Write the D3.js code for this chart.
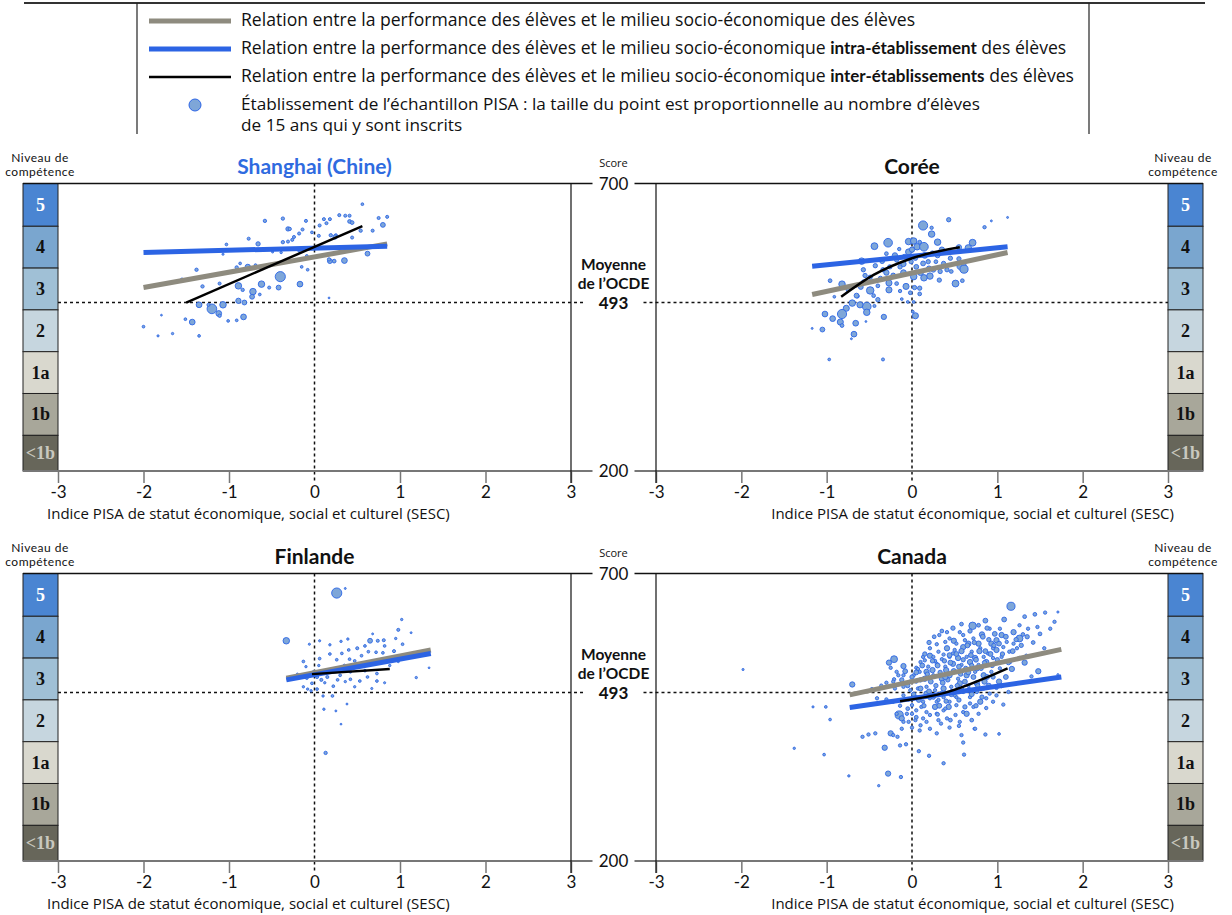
<!DOCTYPE html>
<html>
<head>
<meta charset="utf-8">
<script src="https://cdn.jsdelivr.net/npm/d3@7"></script>
<style>
  body { margin: 0; background: #fff; }
  svg { display: block; }
  text { font-family: Lato, "Open Sans", sans-serif; fill: #111; }
  .wide { font-family: "Open Sans", Lato, sans-serif; }
</style>
</head>
<body>
<svg id="chart" width="1232" height="915"></svg>
<script>
// ---- Data -------------------------------------------------------------
const countries = ["Shanghai (Chine)", "Corée", "Finlande", "Canada"];
const levelLabels = ["5", "4", "3", "2", "1a", "1b", "<1b"];
const levelCuts = [700, 625.6, 552.9, 480.2, 407.5, 334.8, 262.0, 200];
const xTicks = [-3, -2, -1, 0, 1, 2, 3];
const scoreTicks = [700, 200];
const oecdMean = 493;

// Schools: [ESCS index, mean score, 15-year-old students enrolled]
const shanghaiSchools = [
  [0.56,664,8],[0.29,645,10],[0.36,644,10],[0.41,644,10],[0.85,642,10],[0.75,640,10],[0.11,638,10],[0.18,638,10],
  [0.41,634,15],[0.44,632,15],[0.80,628,25],[-0.58,635,12],[-0.37,639,12],[-0.10,635,10],[0.14,631,10],[0.06,627,10],
  [-0.31,621,20],[-0.29,621,12],[-0.14,620,10],[-0.18,613,10],[-0.24,607,10],[-0.26,602,10],[-0.31,599,10],[-0.37,598,12],
  [-0.03,615,8],[0.05,609,10],[0.19,610,12],[0.25,610,10],[0.44,606,10],[0.54,618,12],[0.68,618,10],[-0.77,604,10],
  [-0.66,595,20],[-1.03,594,8],[-0.49,581,5],[-0.39,580,6],[-0.09,574,8],[-0.18,583,8],[0.18,565,25],[0.23,565,15],
  [0.35,566,35],[0.62,578,25],[-0.08,550,8],[-0.15,555,8],[-1.07,577,5],[-1.38,550,12],[-1.55,533,10],[-1.31,521,12],
  [-1.11,526,10],[-0.87,561,8],[-0.91,554,12],[-0.78,555,30],[-0.69,558,8],[-0.40,538,110],[-0.42,519,25],[-0.62,525,45],
  [-0.72,512,45],[-0.73,503,25],[-0.89,522,45],[-0.84,515,12],[-0.64,507,8],[-0.53,519,10],[-0.17,525,35],[-0.89,496,30],
  [-0.82,493,25],[-1.07,489,45],[-1.20,482,100],[-1.12,474,35],[-1.35,489,35],[-1.24,489,10],[-1.11,470,12],[-0.83,468,35],
  [-1.43,459,35],[-1.51,464,8],[-1.01,461,8],[-0.91,462,8],[-2.0,451,8],[-1.79,471,3],[-1.83,435,5],[-1.66,439,6],
  [-1.35,435,8],[0.17,501,3],[0.24,607,20],[0.17,568,12]
];
const koreaSchools = [
  [1.12,641,4],[0.93,635,4],[0.85,624,12],[0.43,637,20],[0.13,627,90],[0.23,623,12],[0.23,612,45],[0.30,598,45],
  [0.71,597,50],[0.66,588,45],[0.55,589,30],[-0.44,591,50],[-0.28,597,80],[-0.30,578,15],[-0.15,586,12],[-0.04,599,45],
  [0.02,600,45],[0.06,590,45],[0.09,598,15],[0.14,590,80],[-0.04,581,40],[-0.09,573,20],[-0.01,564,20],[0.04,570,20],
  [0.13,561,25],[0.19,564,20],[0.28,564,15],[0.37,561,20],[0.55,569,20],[0.58,557,90],[0.61,551,70],[0.51,526,50],
  [0.59,531,15],[0.41,550,20],[0.32,532,20],[0.21,539,45],[0.14,536,45],[0.02,538,45],[0.03,519,20],[0.09,518,20],
  [0.09,508,15],[-0.02,510,15],[-0.05,494,8],[0.01,477,8],[0.04,470,40],[-0.12,499,8],[-0.14,513,12],[-0.07,521,40],
  [-0.18,526,15],[-0.27,515,40],[-0.27,527,40],[-0.40,522,15],[-0.49,514,60],[-0.37,535,20],[-0.49,537,20],[-0.34,550,20],
  [-0.26,555,20],[-0.18,567,20],[-0.43,557,20],[-0.57,550,20],[-0.59,565,45],[-0.57,529,15],[-0.82,525,45],[-0.96,531,15],
  [-0.91,503,8],[-0.53,486,80],[-0.61,489,40],[-0.70,492,45],[-0.77,483,40],[-0.82,473,90],[-0.53,476,45],[-0.44,487,10],
  [-1.02,473,35],[-0.93,465,35],[-0.84,459,40],[-0.82,453,15],[-0.66,457,35],[-0.68,438,35],[-0.33,468,30],[-0.54,460,3],
  [-1.05,446,25],[-1.17,448,4],[-0.97,394,8],[-0.34,394,10],[-0.71,430,4],[-0.64,504,15],[-0.75,515,15],[0.02,494,8],
  [0.33,547,20],[0.46,547,15],[0.24,579,20],[-0.14,555,20],[-0.10,560,30],[0.05,555,25],[0.20,552,30],[-0.22,540,25],
  [0.10,545,35],[-0.30,545,30],[0.30,575,25],[0.45,570,20],[-0.60,520,25],[-0.45,505,15],[0.00,585,30],[-0.20,575,30],
  [0.15,575,35],[0.35,585,30],[-0.35,565,25],[-0.10,545,35],[0.25,550,25],[-0.55,540,20],[-0.65,505,25],[-0.40,498,20]
];
const finlandSchools = [
  [0.26,666,110],[0.36,674,4],[-0.33,583,45],[1.02,620,6],[0.98,602,10],[1.13,597,4],[0.65,583,25],[0.74,583,10],
  [0.81,584,10],[1.03,577,8],[0.93,565,10],[1.16,562,8],[1.34,536,3],[1.19,519,6],[0.82,510,5],[0.73,513,8],
  [0.67,500,5],[0.62,520,8],[0.53,513,8],[0.47,503,6],[0.42,516,8],[0.36,512,6],[0.27,515,8],[0.22,504,8],
  [0.15,520,10],[0.08,515,10],[0.03,520,10],[-0.03,509,8],[-0.09,518,8],[-0.10,538,6],[0.06,552,8],[0.18,560,8],
  [0.26,550,8],[0.32,561,8],[0.40,567,8],[0.41,551,8],[0.50,570,10],[0.55,557,8],[0.59,574,8],[0.63,564,8],
  [0.47,548,8],[0.31,582,6],[0.39,586,6],[0.18,576,6],[0.06,583,5],[-0.06,577,5],[0.68,595,4],[0.21,487,8],
  [0.11,464,6],[0.38,473,4],[0.25,461,4],[0.13,388,12],[-0.08,499,6],[-0.04,496,6],[0.03,499,8],[0.10,487,6],
  [0.31,438,3],[-0.13,503,6],[-0.13,547,8],[0.72,563,8],[0.82,574,8],[0.80,562,8],[0.98,547,6],[1.10,554,6],
  [0.73,526,8],[0.59,531,8],[0.42,529,8],[0.30,523,8],[0.51,543,8],[-0.01,529,8],[0.95,587,6],[0.20,530,8],
  [0.35,540,8],[0.12,510,6],[0.60,545,6],[0.88,540,6],[-0.20,525,5],[0.05,540,6],[0.45,535,6]
];
const canadaSchools = [
  [1.16,643,70],[0.71,609,60],[0.86,618,25],[1.08,620,25],[1.32,625,15],[1.44,629,15],[1.56,632,12],[1.71,633,5],
  [1.67,616,12],[1.62,604,12],[1.47,607,12],[1.26,587,50],[1.30,594,15],[1.19,598,30],[1.19,578,12],[1.14,564,12],
  [1.05,593,30],[0.93,578,30],[0.82,594,30],[0.78,578,30],[0.66,578,30],[0.60,593,12],[0.49,583,30],[0.48,561,12],
  [0.37,559,12],[0.21,557,30],[0.27,548,12],[0.13,555,12],[0.10,546,12],[0.05,536,12],[-0.10,539,30],[-0.21,551,50],
  [-0.27,545,30],[-0.25,536,12],[-0.21,516,12],[-0.30,510,12],[-0.36,505,12],[-0.47,499,12],[-0.70,507,30],[-1.98,533,5],
  [-1.16,468,5],[-1.01,468,8],[-0.96,446,8],[-1.38,396,6],[-1.03,385,8],[-0.74,348,6],[-0.39,331,6],[-0.28,352,30],
  [-0.13,346,12],[-0.32,397,30],[-0.14,401,12],[-0.07,403,12],[0.08,391,12],[0.20,383,12],[0.37,370,12],[0.61,385,12],
  [0.60,406,12],[0.86,420,12],[1.02,421,8],[0.73,430,8],[-0.58,416,12],[-0.51,420,12],[-0.43,422,12],[-0.25,422,30],
  [-0.22,419,12],[-0.17,416,12],[0.00,432,12],[0.09,427,12],[0.10,436,12],[0.21,430,12],[0.34,439,12],[0.44,432,12],
  [0.56,442,12],[0.74,430,12],[-0.15,454,70],[-0.12,448,30],[-0.06,456,12],[0.00,456,12],[0.13,448,12],[0.21,454,12],
  [0.37,462,12],[0.43,468,30],[0.52,471,12],[0.60,459,12],[0.72,468,12],[0.87,483,12],[0.99,488,12],[1.07,472,12],
  [1.13,494,12],[1.02,512,30],[1.17,534,30],[1.48,530,30],[1.40,521,12],[1.71,524,5],[1.32,545,30],[-0.41,483,12],
  [-0.30,481,12],[-0.22,477,12],[-0.14,470,12],[-0.04,481,12],[0.05,485,12],[0.13,477,12],[0.21,483,12],[0.29,477,12],
  [0.37,485,12],[0.44,477,12],[0.52,485,12],[0.60,494,12],[0.68,485,12],[0.76,494,12],[0.84,500,12],[0.91,491,12],
  [0.99,501,12],[0.85,512,30],[0.76,509,30],[0.66,505,12],[0.56,509,30],[0.46,503,12],[0.37,500,30],[0.27,497,12],
  [0.17,503,12],[0.07,500,12],[-0.02,497,12],[-0.10,503,12],[-0.20,500,12],[0.05,512,12],[0.15,517,30],[0.25,523,12],
  [0.35,517,30],[0.44,523,30],[0.54,517,12],[0.64,523,30],[0.74,529,12],[0.84,523,30],[0.93,529,12],[1.03,535,12],
  [0.87,546,30],[0.78,541,12],[0.68,546,30],[0.58,541,12],[0.48,543,30],[0.39,538,12],[0.29,543,12],[0.19,538,12],
  [0.09,529,12],[0.17,529,30],[0.02,523,12],[-0.10,523,12],[-0.18,529,12],[0.21,570,12],[0.31,564,12],[0.41,570,30],
  [0.50,567,12],[0.60,572,30],[0.70,564,12],[0.80,570,12],[0.89,561,12],[0.99,567,30],[1.07,572,12],[1.05,555,12],
  [0.95,553,12],[0.84,555,12],[0.74,553,30],[0.64,555,12],[0.54,553,30],[0.44,555,12],[0.35,551,12],[0.25,555,12],
  [0.29,577,12],[0.39,581,12],[0.52,578,12],[0.62,584,12],[0.72,587,12],[0.95,570,12],[0.99,584,30],[1.11,581,12],
  [1.23,570,12],[1.15,546,12],[1.26,553,12],[1.34,557,12],[1.26,610,12],[1.36,604,12],[1.03,604,12],[0.91,604,12],
  [0.56,598,12],[0.44,587,12],[0.32,593,12],[0.41,598,12],[0.07,534,12],[0.15,549,12],[-0.22,512,12],[-0.16,523,12],
  [-0.02,512,12],[-0.10,488,12],[0.00,471,12],[0.05,462,12],[0.11,468,12],[0.17,459,12],[0.29,456,12],[0.41,448,12],
  [0.51,454,12],[0.64,456,30],[0.78,456,12],[0.87,466,12],[0.95,477,12],[0.27,468,30],[0.31,480,12],[0.68,474,12],
  [0.80,477,30],[0.50,488,12],[0.27,488,12],[0.17,491,30],[-0.18,456,12],[-0.10,442,12],[-0.04,442,12],[0.04,445,12],
  [0.17,442,12],[0.31,445,12],[-0.12,430,12],[0.29,422,12],[0.58,419,12],[0.39,465,12],
  [0.00,520,20],[0.05,528,25],[0.10,515,20],[0.12,540,25],[0.18,525,20],[0.22,512,25],[0.24,532,30],[0.28,505,20],
  [0.30,540,25],[0.33,528,20],[0.36,510,25],[0.38,548,20],[0.40,532,30],[0.42,515,20],[0.45,545,25],[0.47,495,20],
  [0.49,530,30],[0.52,560,25],[0.53,505,20],[0.55,538,25],[0.57,525,20],[0.58,565,30],[0.60,550,20],[0.62,512,25],
  [0.63,535,20],[0.65,575,25],[0.67,498,20],[0.69,558,25],[0.70,540,20],[0.72,520,25],[0.73,580,20],[0.75,550,25],
  [0.77,505,20],[0.79,565,30],[0.81,535,20],[0.83,590,25],[0.85,545,20],[0.88,520,25],[0.90,585,20],[0.92,560,25],
  [0.94,540,20],[0.97,595,25],[1.00,550,20],[1.02,578,25],[1.06,560,20],[1.10,590,25],[1.13,545,20],[1.18,565,25],
  [1.22,585,20],[1.28,575,20],[1.35,590,20],[1.42,580,15],[1.50,595,15],[1.55,570,12],[-0.05,505,20],[-0.08,530,25],
  [-0.12,515,20],[0.02,490,20],[0.08,480,25],[0.14,470,20],[0.20,495,25],[0.25,485,20],[0.32,470,25],[0.35,492,20],
  [0.40,478,20],[0.46,490,25],[0.55,480,20],[0.62,468,20],[0.70,490,25],[0.75,470,20],[0.82,485,20],[0.90,505,25],
  [0.95,520,20],[1.05,505,20],[1.10,520,25],[0.15,560,20],[0.20,580,20],[0.26,590,15],[0.35,600,15],[0.48,605,20],
  [0.58,612,15],[0.68,600,20],[0.78,610,15],[0.88,605,20],[0.30,455,15],[0.45,445,15],[0.05,450,15],[-0.05,465,15],
  [0.55,435,12],[0.70,445,15],[0.10,500,25],[0.44,558,25],[0.66,528,25],[0.86,565,25],[0.39,520,30],[0.58,498,25],
  [0.76,535,30],[0.96,575,20],[0.24,548,20]
];

// Regression lines: [ESCS index, score]
const shanghaiTotal   = [[-2.0, 519], [0.85, 595]];
const shanghaiWithin  = [[-2.0, 580], [0.85, 591]];
const shanghaiBetween = [[-1.5, 493], [0.56, 626]];
const koreaTotal      = [[-1.17, 507], [1.12, 580]];
const koreaWithin     = [[-1.17, 556], [1.12, 590]];
const koreaBetween    = [[-0.83, 503], [-0.45, 541], [0, 570], [0.56, 589]];
const finlandTotal    = [[-0.33, 518], [1.36, 567]];
const finlandWithin   = [[-0.33, 515], [1.36, 561]];
const finlandBetween  = [[-0.03, 525], [0.88, 534]];
const canadaTotal     = [[-0.73, 489], [1.75, 568]];
const canadaWithin    = [[-0.73, 467], [1.75, 520]];
const canadaBetween   = [[-0.14, 478], [0.37, 492], [1.12, 535]];

const legendItems = [
  ["Relation entre la performance des élèves et le milieu socio-économique des élèves", "", ""],
  ["Relation entre la performance des élèves et le milieu socio-économique ", "intra-établissement", " des élèves"],
  ["Relation entre la performance des élèves et le milieu socio-économique ", "inter-établissements", " des élèves"]
];

// ---- Styles -----------------------------------------------------------
const levelColors = ["#4a85d2", "#7aa6cf", "#a0c0d6", "#c6d6df", "#d9d8ce", "#a8a79a", "#67665a"];
const levelTextColors = ["#ffffff", "#111", "#111", "#111", "#111", "#111", "#c9c8bf"];
const greyLine = "#8e8b7f", blueLine = "#2c64e4", pointFill = "#7ea6d8", pointStroke = "#2d66e6";

const svg = d3.select("#chart");
const r = d3.scaleSqrt().domain([0, 180]).range([0, 6.5]);

const panels = [
  { title: countries[0], schools: shanghaiSchools, lines: [shanghaiTotal, shanghaiWithin, shanghaiBetween],
    x0: 58, x1: 571, y0: 183.5, y1: 471, side: "left", titleColor: "#2f6be0" },
  { title: countries[1], schools: koreaSchools, lines: [koreaTotal, koreaWithin, koreaBetween],
    x0: 656, x1: 1168, y0: 183.5, y1: 471, side: "right", titleColor: "#111" },
  { title: countries[2], schools: finlandSchools, lines: [finlandTotal, finlandWithin, finlandBetween],
    x0: 58, x1: 571, y0: 573.5, y1: 861, side: "left", titleColor: "#111" },
  { title: countries[3], schools: canadaSchools, lines: [canadaTotal, canadaWithin, canadaBetween],
    x0: 656, x1: 1168, y0: 573.5, y1: 861, side: "right", titleColor: "#111" }
];

const midX = 613.5;
const boxW = 35;

panels.forEach(p => {
  const x = d3.scaleLinear().domain([-3, 3]).range([p.x0, p.x1]);
  const y = d3.scaleLinear().domain([200, 700]).range([p.y1, p.y0]);
  const g = svg.append("g");
  const left = p.side === "left";
  const boxX = left ? p.x0 - boxW : p.x1;
  const outerL = left ? boxX : midX + 21;
  const outerR = left ? midX - 21 : boxX + boxW;

  // proficiency level strip
  const lv = g.append("g");
  levelLabels.forEach((lab, i) => {
    const top = y(levelCuts[i]), bot = y(levelCuts[i + 1]);
    lv.append("rect").attr("x", boxX).attr("y", top).attr("width", boxW).attr("height", bot - top)
      .attr("fill", levelColors[i]).attr("stroke", "#222").attr("stroke-width", 1);
    lv.append("text").attr("x", boxX + boxW / 2).attr("y", (top + bot) / 2 + 6)
      .attr("text-anchor", "middle").style("font-family", "'Liberation Serif', serif")
      .style("font-size", "18px").style("font-weight", "bold")
      .style("fill", levelTextColors[i]).text(lab);
  });
  const nx = left ? 40 : 1183;
  g.append("text").attr("x", nx).attr("y", p.y0 - 22).attr("text-anchor", "middle")
    .style("font-size", "12px").style("letter-spacing", "0.5px").text("Niveau de");
  g.append("text").attr("x", nx).attr("y", p.y0 - 7.5).attr("text-anchor", "middle")
    .style("font-size", "12px").style("letter-spacing", "0.5px").text("compétence");

  // reference lines
  g.append("line").attr("x1", x(0)).attr("x2", x(0)).attr("y1", p.y0).attr("y2", p.y1 + 12)
    .attr("stroke", "#111").attr("stroke-width", 1.5).attr("stroke-dasharray", "3,3");
  g.append("line").attr("x1", left ? p.x0 : midX + 30).attr("x2", left ? midX - 28 : p.x1)
    .attr("y1", y(oecdMean)).attr("y2", y(oecdMean))
    .attr("stroke", "#111").attr("stroke-width", 1.5).attr("stroke-dasharray", "3,3");

  // x axis
  const ax = g.append("g").attr("transform", `translate(0,${p.y1})`)
    .call(d3.axisBottom(x).tickValues(xTicks).tickSize(12).tickSizeOuter(0).tickFormat(d => String(d)));
  ax.select(".domain").remove();
  ax.selectAll(".tick line").attr("stroke", "#777").attr("stroke-width", 1.5)
    .filter(d => d === 0).remove();
  ax.selectAll(".tick text").attr("y", 15).style("font-size", "17px").style("font-family", "Lato, sans-serif")
    .attr("fill", "#111");
  g.append("line").attr("x1", outerL).attr("x2", outerR).attr("y1", p.y1).attr("y2", p.y1)
    .attr("stroke", "#777").attr("stroke-width", 2);
  g.append("line").attr("x1", outerL).attr("x2", outerR).attr("y1", p.y0).attr("y2", p.y0)
    .attr("stroke", "#111").attr("stroke-width", 1.5);
  // inner frame edge toward the centre column
  const innerX = left ? p.x1 : p.x0;
  g.append("line").attr("x1", innerX).attr("x2", innerX).attr("y1", p.y0).attr("y2", p.y1 + 12)
    .attr("stroke", "#111").attr("stroke-width", 1.2);

  g.append("text").attr("class", "wide").attr("x", left ? 47 : 1174).attr("y", p.y1 + 48)
    .attr("text-anchor", left ? "start" : "end").style("font-size", "15px")
    .text("Indice PISA de statut économique, social et culturel (SESC)");

  // title
  g.append("text").attr("x", x(0)).attr("y", p.y0 - 10).attr("text-anchor", "middle")
    .style("font-size", "21px").style("font-weight", "bold").style("fill", p.titleColor).text(p.title);

  // schools
  g.append("g").selectAll("circle").data(p.schools).join("circle")
    .attr("cx", d => x(d[0])).attr("cy", d => y(d[1])).attr("r", d => Math.max(0.9, r(d[2])))
    .attr("fill", pointFill).attr("stroke", pointStroke).attr("stroke-width", 0.9);

  // relationships
  const line = d3.line().x(d => x(d[0])).y(d => y(d[1])).curve(d3.curveMonotoneX);
  const styles = [[greyLine, 5], [blueLine, 5], ["#000", 2.5]];
  p.lines.forEach((pts, i) => {
    g.append("path").attr("d", line(pts)).attr("fill", "none")
      .attr("stroke", styles[i][0]).attr("stroke-width", styles[i][1]);
  });
});

// centre score column
[0, 390].forEach(off => {
  const y = d3.scaleLinear().domain([200, 700]).range([471 + off, 183.5 + off]);
  const c = svg.append("g");
  c.append("text").attr("class", "wide").attr("x", midX).attr("y", y(700) - 17).attr("text-anchor", "middle")
    .style("font-size", "11px").text("Score");
  scoreTicks.forEach(t => {
    c.append("text").attr("x", midX).attr("y", y(t) + 6).attr("text-anchor", "middle")
      .style("font-size", "17px").text(t);
  });
  c.append("text").attr("x", midX).attr("y", y(oecdMean) - 33).attr("text-anchor", "middle")
    .style("font-size", "15.5px").style("font-weight", "bold").text("Moyenne");
  c.append("text").attr("x", midX).attr("y", y(oecdMean) - 14).attr("text-anchor", "middle")
    .style("font-size", "15.5px").style("font-weight", "bold").text("de l’OCDE");
  c.append("text").attr("x", midX).attr("y", y(oecdMean) + 6).attr("text-anchor", "middle")
    .style("font-size", "17px").style("font-weight", "bold").text(oecdMean);
});

// legend
const lg = svg.append("g");
lg.append("line").attr("x1", 24).attr("x2", 1205).attr("y1", 3).attr("y2", 3).attr("stroke", "#333").attr("stroke-width", 2);
[137, 1089].forEach(vx => lg.append("line").attr("x1", vx).attr("x2", vx).attr("y1", 3).attr("y2", 134)
  .attr("stroke", "#222").attr("stroke-width", 1.2));
const legendStyles = [[greyLine, 5], [blueLine, 5], ["#000", 2.5]];
legendItems.forEach((it, i) => {
  const yy = 21 + i * 28;
  lg.append("line").attr("x1", 149).attr("x2", 231).attr("y1", yy).attr("y2", yy)
    .attr("stroke", legendStyles[i][0]).attr("stroke-width", legendStyles[i][1]);
  const t = lg.append("text").attr("class", "wide").attr("x", 241).attr("y", yy + 5).style("font-size", "17.6px");
  t.append("tspan").text(it[0]);
  if (it[1]) t.append("tspan").style("font-family", "Lato, sans-serif").style("font-size", "17px")
    .style("font-weight", "bold").text(it[1]);
  if (it[2]) t.append("tspan").text(it[2]);
});
lg.append("circle").attr("cx", 195).attr("cy", 105).attr("r", 6).attr("fill", pointFill).attr("stroke", pointStroke);
lg.append("text").attr("class", "wide").attr("x", 241).attr("y", 110).style("font-size", "17.2px")
  .text("Établissement de l’échantillon PISA : la taille du point est proportionnelle au nombre d’élèves");
lg.append("text").attr("class", "wide").attr("x", 241).attr("y", 131).style("font-size", "17.2px")
  .text("de 15 ans qui y sont inscrits");
</script>
</body>
</html>
